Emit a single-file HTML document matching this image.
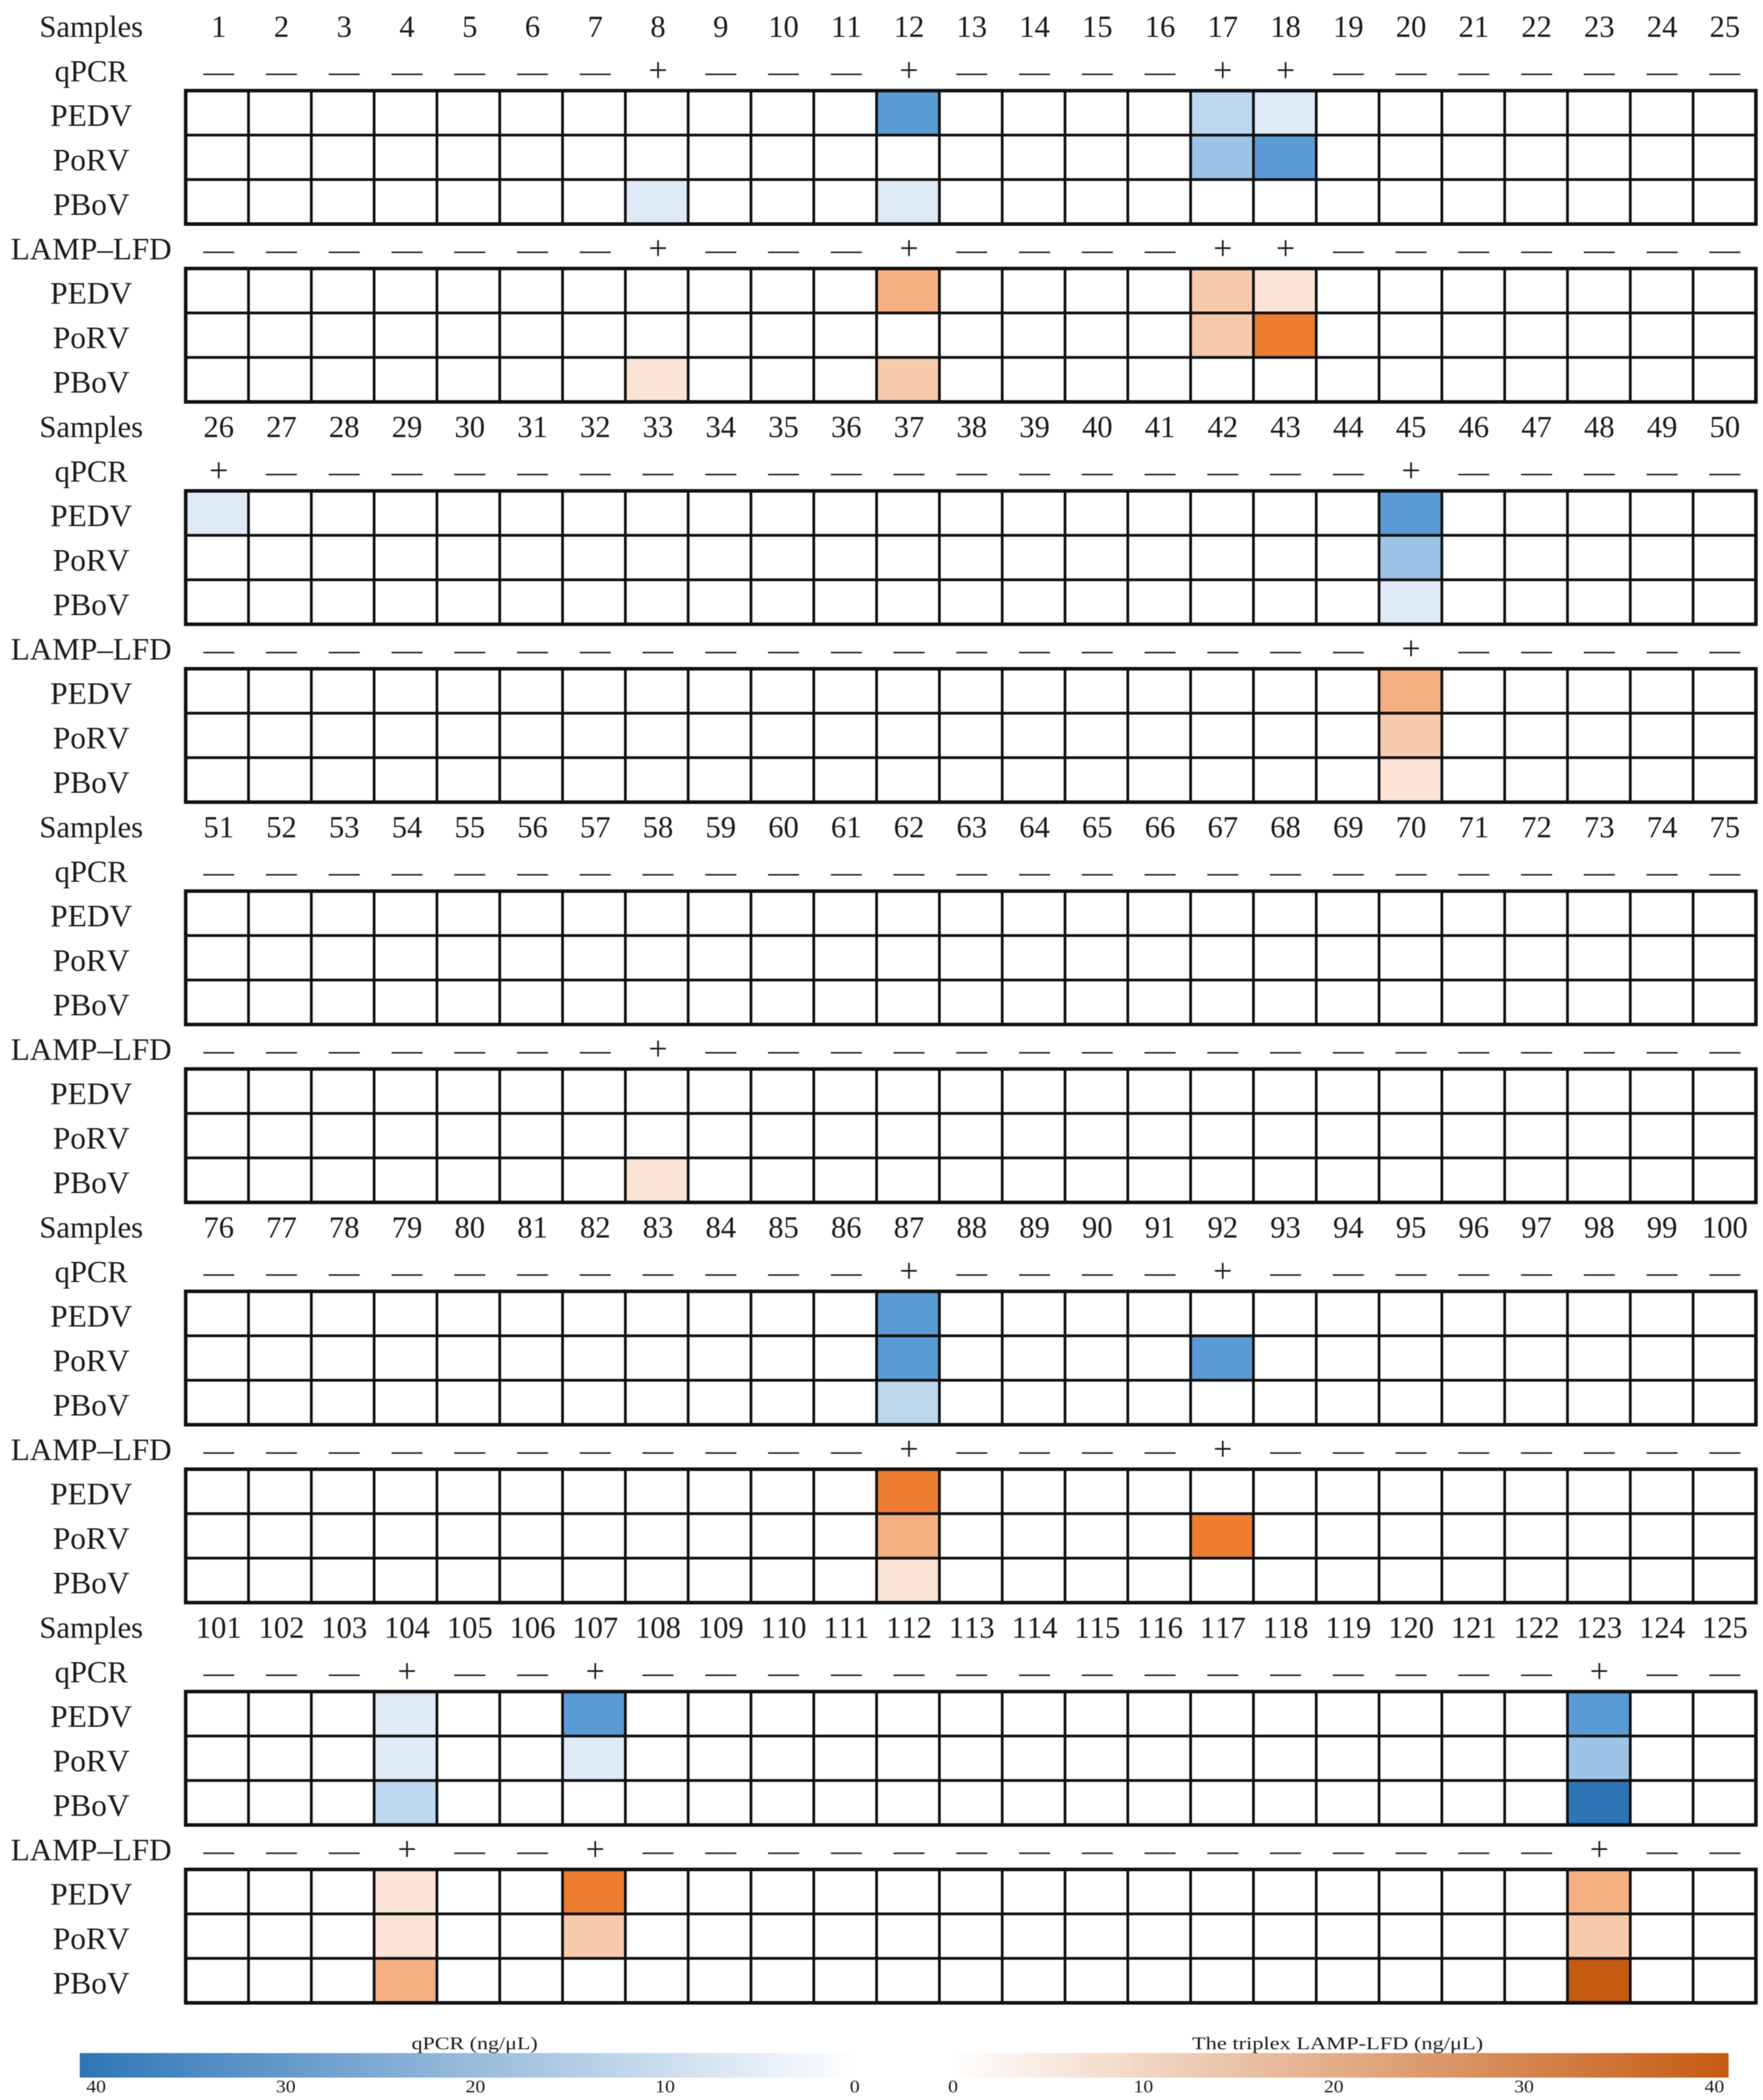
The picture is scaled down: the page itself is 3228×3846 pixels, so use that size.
<!DOCTYPE html>
<html lang="en">
<head>
<meta charset="utf-8">
<title>qPCR and triplex LAMP-LFD heatmap</title>
<style>
html,body{margin:0;padding:0;background:#fff;}
svg{display:block;filter:blur(0.7px);}
text{font-family:"Liberation Serif",serif;fill:#1c1c1c;text-anchor:middle;font-kerning:none;}
</style>
</head>
<body>
<svg id="chart" xmlns="http://www.w3.org/2000/svg" width="3228" height="3846" viewBox="0 0 3228 3846">
<rect width="3228" height="3846" fill="#fff"></rect>
<defs>
<linearGradient id="grad-blue" x1="0" x2="1" y1="0" y2="0"><stop offset="0" stop-color="#2E75B6"/><stop offset="1" stop-color="#ffffff"/></linearGradient>
<linearGradient id="grad-orange" x1="0" x2="1" y1="0" y2="0"><stop offset="0" stop-color="#ffffff"/><stop offset="1" stop-color="#C55A11"/></linearGradient>
</defs>
</svg>
<script>
const samples = [
1,2,3,4,5,6,7,8,9,10,11,12,13,14,15,16,17,18,19,20,21,22,23,24,25,
26,27,28,29,30,31,32,33,34,35,36,37,38,39,40,41,42,43,44,45,46,47,48,49,50,
51,52,53,54,55,56,57,58,59,60,61,62,63,64,65,66,67,68,69,70,71,72,73,74,75,
76,77,78,79,80,81,82,83,84,85,86,87,88,89,90,91,92,93,94,95,96,97,98,99,100,
101,102,103,104,105,106,107,108,109,110,111,112,113,114,115,116,117,118,119,120,121,122,123,124,125];

const qpcrPEDV = [
0,0,0,0,0,0,0,0,0,0,0,30,0,0,0,0,15,8,0,0,0,0,0,0,0,
8,0,0,0,0,0,0,0,0,0,0,0,0,0,0,0,0,0,0,30,0,0,0,0,0,
0,0,0,0,0,0,0,0,0,0,0,0,0,0,0,0,0,0,0,0,0,0,0,0,0,
0,0,0,0,0,0,0,0,0,0,0,30,0,0,0,0,0,0,0,0,0,0,0,0,0,
0,0,0,8,0,0,30,0,0,0,0,0,0,0,0,0,0,0,0,0,0,0,30,0,0];
const qpcrPoRV = [
0,0,0,0,0,0,0,0,0,0,0,0,0,0,0,0,20,30,0,0,0,0,0,0,0,
0,0,0,0,0,0,0,0,0,0,0,0,0,0,0,0,0,0,0,20,0,0,0,0,0,
0,0,0,0,0,0,0,0,0,0,0,0,0,0,0,0,0,0,0,0,0,0,0,0,0,
0,0,0,0,0,0,0,0,0,0,0,30,0,0,0,0,30,0,0,0,0,0,0,0,0,
0,0,0,8,0,0,8,0,0,0,0,0,0,0,0,0,0,0,0,0,0,0,20,0,0];
const qpcrPBoV = [
0,0,0,0,0,0,0,8,0,0,0,8,0,0,0,0,0,0,0,0,0,0,0,0,0,
0,0,0,0,0,0,0,0,0,0,0,0,0,0,0,0,0,0,0,8,0,0,0,0,0,
0,0,0,0,0,0,0,0,0,0,0,0,0,0,0,0,0,0,0,0,0,0,0,0,0,
0,0,0,0,0,0,0,0,0,0,0,15,0,0,0,0,0,0,0,0,0,0,0,0,0,
0,0,0,15,0,0,0,0,0,0,0,0,0,0,0,0,0,0,0,0,0,0,40,0,0];
const lampPEDV = [
0,0,0,0,0,0,0,0,0,0,0,22,0,0,0,0,15,8,0,0,0,0,0,0,0,
0,0,0,0,0,0,0,0,0,0,0,0,0,0,0,0,0,0,0,22,0,0,0,0,0,
0,0,0,0,0,0,0,0,0,0,0,0,0,0,0,0,0,0,0,0,0,0,0,0,0,
0,0,0,0,0,0,0,0,0,0,0,32,0,0,0,0,0,0,0,0,0,0,0,0,0,
0,0,0,8,0,0,32,0,0,0,0,0,0,0,0,0,0,0,0,0,0,0,22,0,0];
const lampPoRV = [
0,0,0,0,0,0,0,0,0,0,0,0,0,0,0,0,15,32,0,0,0,0,0,0,0,
0,0,0,0,0,0,0,0,0,0,0,0,0,0,0,0,0,0,0,15,0,0,0,0,0,
0,0,0,0,0,0,0,0,0,0,0,0,0,0,0,0,0,0,0,0,0,0,0,0,0,
0,0,0,0,0,0,0,0,0,0,0,22,0,0,0,0,32,0,0,0,0,0,0,0,0,
0,0,0,8,0,0,15,0,0,0,0,0,0,0,0,0,0,0,0,0,0,0,15,0,0];
const lampPBoV = [
0,0,0,0,0,0,0,8,0,0,0,15,0,0,0,0,0,0,0,0,0,0,0,0,0,
0,0,0,0,0,0,0,0,0,0,0,0,0,0,0,0,0,0,0,8,0,0,0,0,0,
0,0,0,0,0,0,0,8,0,0,0,0,0,0,0,0,0,0,0,0,0,0,0,0,0,
0,0,0,0,0,0,0,0,0,0,0,8,0,0,0,0,0,0,0,0,0,0,0,0,0,
0,0,0,22,0,0,0,0,0,0,0,0,0,0,0,0,0,0,0,0,0,0,40,0,0];

const virusNames = ["PEDV","PoRV","PBoV"];
const blueStopValues = [0,8,15,20,30,40];
const blueStopColors = ["#FFFFFF","#DEEAF6","#BDD7EE","#9DC3E6","#5B9BD5","#2E75B6"];
const orangeStopValues = [0,8,15,22,32,40];
const orangeStopColors = ["#FFFFFF","#FBE4D5","#F7CAAC","#F4B083","#ED7D31","#C55A11"];
const qpcrTicks = [40,30,20,10,0];
const lampTicks = [0,10,20,30,40];

const NS = "http://www.w3.org/2000/svg";
const svg = document.getElementById("chart");
const gridLeft = 340, colW = 115, perRow = 25, gridTop = 166, rowH = 81.44, period = 733;

function hexToRgb(h){return [1,3,5].map(function(i){return parseInt(h.substr(i,2),16);});}
function colorScale(v, vals, cols){
  if(v <= vals[0]) return cols[0];
  for(let i=1;i<vals.length;i++){
    if(v <= vals[i]){
      const t=(v-vals[i-1])/(vals[i]-vals[i-1]);
      const a=hexToRgb(cols[i-1]), b=hexToRgb(cols[i]);
      return "rgb("+a.map(function(c,k){return Math.round(c+(b[k]-c)*t);}).join(",")+")";
    }
  }
  return cols[cols.length-1];
}
function xScale(col){return gridLeft+col*colW;}
function textX(col){return 400.5+col*114.9;}
function yScale(block,row){return gridTop+block*period+row*rowH;}
function baseline(block,row){return yScale(block,row)-17;}

function addText(str,x,y,size,name,parent){
  const t=document.createElementNS(NS,"text");
  t.setAttribute("x",x);
  t.setAttribute("y",y);
  t.setAttribute("font-size",size);
  
  
  t.textContent=str;
  (parent||svg).appendChild(t);
  return t;
}
function addGroup(name){
  const g=document.createElementNS(NS,"g");
  
  
  svg.appendChild(g);
  return g;
}
function addCell(group,block,row,col,value,vals,cols,name){
  const r=document.createElementNS(NS,"rect");
  r.setAttribute("x",xScale(col));
  r.setAttribute("y",yScale(block,row));
  r.setAttribute("width",colW);
  r.setAttribute("height",rowH);
  r.setAttribute("fill",colorScale(value,vals,cols));
  r.setAttribute("stroke","#111111");
  r.setAttribute("stroke-width","5");
  
  
  group.appendChild(r);
}
function addFrame(group,block,row){
  const r=document.createElementNS(NS,"rect");
  r.setAttribute("x",xScale(0));
  r.setAttribute("y",yScale(block,row));
  r.setAttribute("width",colW*perRow);
  r.setAttribute("height",rowH*3);
  r.setAttribute("fill","none");
  r.setAttribute("stroke","#111111");
  r.setAttribute("stroke-width","6.5");
  
  
  group.appendChild(r);
}

const qpcrSeries=[qpcrPEDV,qpcrPoRV,qpcrPBoV];
const lampSeries=[lampPEDV,lampPoRV,lampPBoV];

for(let b=0;b<5;b++){
  const g=addGroup("sample-block-"+(b+1));
  const labelX=167;
  addText("Samples",labelX,baseline(b,-1),56,"samples-label",g);
  addText("qPCR",labelX,baseline(b,0),56,"qpcr-label",g);
  addText("LAMP\u2013LFD",labelX,baseline(b,4),57,"lamp-lfd-label",g);
  virusNames.forEach(function(v,i){
    addText(v,labelX,baseline(b,1+i),57.5,"qpcr-row-label-"+v.toLowerCase(),g);
    addText(v,labelX,baseline(b,5+i),57.5,"lamp-row-label-"+v.toLowerCase(),g);
  });
  for(let c=0;c<perRow;c++){
    const idx=b*perRow+c;
    const cx=textX(c);
    addText(String(samples[idx]),cx,baseline(b,-1),56,"sample-number-"+samples[idx],g);
    const qPos=qpcrSeries.some(function(s){return s[idx]>0;});
    const lPos=lampSeries.some(function(s){return s[idx]>0;});
    addText(qPos?"+":"\u2014",cx,baseline(b,0),qPos?62:56,"qpcr-call-"+samples[idx],g);
    addText(lPos?"+":"\u2014",cx,baseline(b,4),lPos?62:56,"lamp-call-"+samples[idx],g);
    for(let r=0;r<3;r++){
      addCell(g,b,r,c,qpcrSeries[r][idx],blueStopValues,blueStopColors,"qpcr-cell-"+virusNames[r].toLowerCase()+"-"+samples[idx]);
      addCell(g,b,4+r,c,lampSeries[r][idx],orangeStopValues,orangeStopColors,"lamp-cell-"+virusNames[r].toLowerCase()+"-"+samples[idx]);
    }
  }
  addFrame(g,b,0);
  addFrame(g,b,4);
}

/* colour bars */
function addBar(name,x,w,fill){
  const r=document.createElementNS(NS,"rect");
  r.setAttribute("x",x);
  r.setAttribute("y",3760);
  r.setAttribute("width",w);
  r.setAttribute("height",45);
  r.setAttribute("fill",fill);
  
  
  svg.appendChild(r);
}
addBar("qpcr-colorbar",146,1426,"url(#grad-blue)");
addBar("lamp-colorbar",1735,1430,"url(#grad-orange)");

function fitText(t,len){
  t.setAttribute("textLength",len);
  t.setAttribute("lengthAdjust","spacingAndGlyphs");
}
fitText(addText("qPCR (ng/\u03BCL)",869,3753,33,"qpcr-colorbar-title"),231);
fitText(addText("The triplex LAMP-LFD (ng/\u03BCL)",2449,3753,33,"lamp-colorbar-title"),533);

function blueTickX(v){return 1565-(v/40)*1389;}
function orangeTickX(v){return 1745+(v/40)*1394;}
qpcrTicks.forEach(function(v){
  fitText(addText(String(v),blueTickX(v),3832,33,"qpcr-colorbar-tick-"+v),v===0?18:36);
});
lampTicks.forEach(function(v){
  fitText(addText(String(v),orangeTickX(v),3832,33,"lamp-colorbar-tick-"+v),v===0?18:36);
});
</script>
</body>
</html>
